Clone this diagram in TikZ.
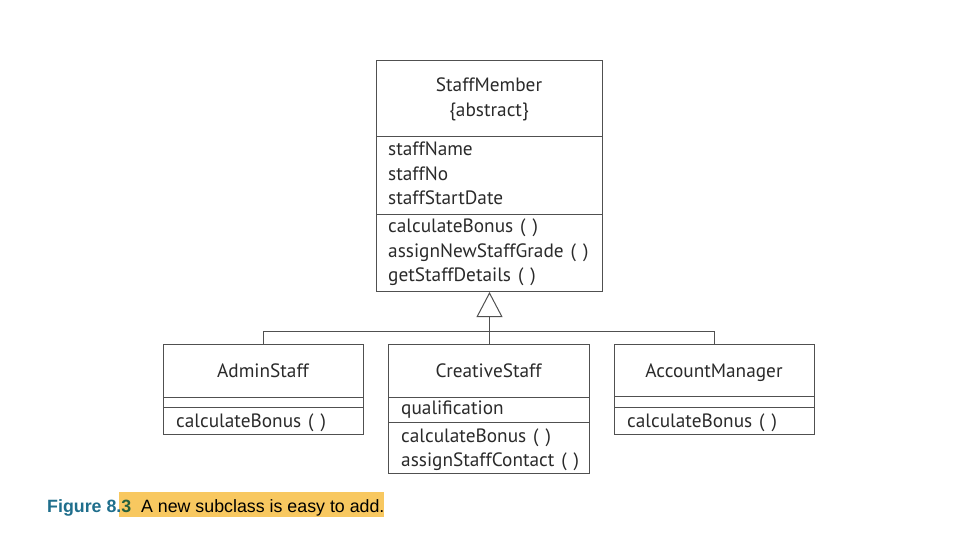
\documentclass[tikz,border=0pt]{standalone}
\usepackage{fontspec}
\setmainfont{PT Sans}[WordSpace=1.35]
\newfontfamily\capfont{Liberation Sans}
\usetikzlibrary{arrows.meta}
\definecolor{ln}{HTML}{505050}
\definecolor{tx}{HTML}{2A2A2A}
\definecolor{capblue}{HTML}{1F6E8C}
\definecolor{capgreen}{HTML}{25603E}
\definecolor{hl}{HTML}{F8C860}
\begin{document}
\begin{tikzpicture}[x=1pt,y=-1pt,
  box/.style={draw=ln, line width=1pt, inner sep=0pt, anchor=north west},
  txt/.style={inner sep=0pt, anchor=base west, text=tx, font=\fontsize{19.3}{22}\selectfont},
  ttl/.style={inner sep=0pt, anchor=base, text=tx, font=\fontsize{19.3}{22}\selectfont},
  conn/.style={draw=ln, line width=1pt}]
\useasboundingbox (0,0) rectangle (960,542);
% StaffMember
\node[box, minimum width=226pt, minimum height=231pt] (sm) at (376,60) {};
\draw[conn] (376,136) -- (602,136);
\draw[conn] (376,214) -- (602,214);
\node[ttl] (smt) at (489,91) {StaffMember};
\node[ttl] (sma) at (489,116) {\{abstract\}};
\node[txt] (a1) at (388,155) {staffName};
\node[txt] (a2) at (388,180) {staffNo};
\node[txt] (a3) at (388,204) {staffStartDate};
\node[txt] (m1) at (388,232) {calculateBonus ( )};
\node[txt] (m2) at (388,257) {assignNewStaffGrade ( )};
\node[txt] (m3) at (388,281) {getStaffDetails ( )};
% AdminStaff
\node[box, minimum width=200pt, minimum height=90pt] (adm) at (163,344) {};
\draw[conn] (163,397) -- (363,397);
\draw[conn] (163,407) -- (363,407);
\node[ttl] (admt) at (263,377) {AdminStaff};
\node[txt] (adm1) at (176,427) {calculateBonus ( )};
% CreativeStaff
\node[box, minimum width=201pt, minimum height=129pt] (cre) at (388,344) {};
\draw[conn] (388,397) -- (589,397);
\draw[conn] (388,422) -- (589,422);
\node[ttl] (cret) at (488.5,377) {CreativeStaff};
\node[txt] (cre1) at (401,414) {qualification};
\node[txt] (cre2) at (401,442) {calculateBonus ( )};
\node[txt] (cre3) at (401,466) {assignStaffContact ( )};
% AccountManager
\node[box, minimum width=200pt, minimum height=90pt] (acc) at (614,344) {};
\draw[conn] (614,396) -- (814,396);
\draw[conn] (614,407) -- (814,407);
\node[ttl] (acct) at (714,377) {AccountManager};
\node[txt] (acc1) at (627,427) {calculateBonus ( )};
% connectors
\coordinate (j) at (489,331);
\draw[conn, -{Triangle[open, length=25pt, width=26pt, line width=1pt]}] (cre.north -| sm.south) -- (sm.south);
\draw[conn] (adm.north) |- (j) -| (acc.north);
% caption
\fill[hl] (119,492) rectangle (384,517);
\node[inner sep=0pt, anchor=base west, font=\capfont\fontsize{17.8}{20}\selectfont] (cap) at (47,512)
  {\bfseries\textcolor{capblue}{Figure 8.}\textcolor{capgreen}{3}\mdseries\hspace{0.55em}A new subclass is easy to add.};
\end{tikzpicture}
\end{document}
